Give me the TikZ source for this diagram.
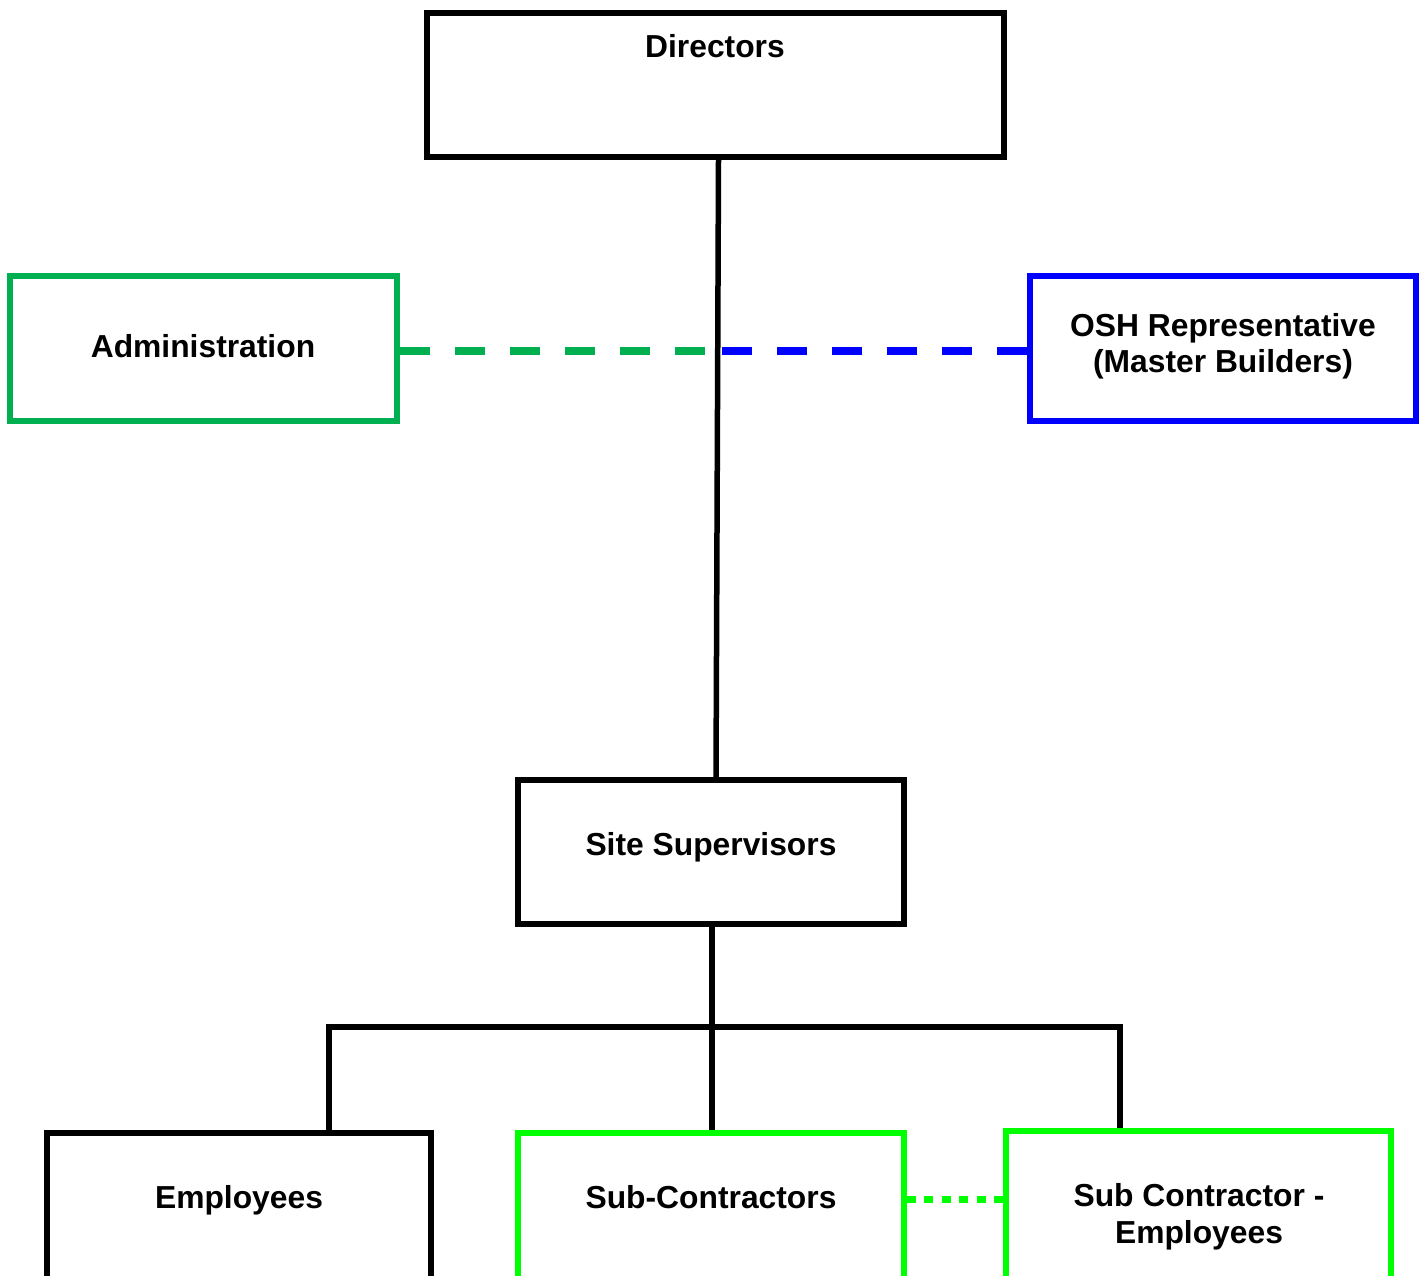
\documentclass[tikz,border=0pt]{standalone}
\usepackage{fontspec}
\setmainfont{Liberation Sans}
\begin{document}
\begin{tikzpicture}[x=1pt,y=-1pt,
  box/.style={draw=black,line width=5.5pt,rectangle,inner sep=0pt},
  lbl/.style={font=\fontsize{31.8}{36}\selectfont\bfseries,inner sep=0pt,anchor=base},
  conn/.style={draw=black,line width=5.5pt}]
\useasboundingbox (0,0) rectangle (1426,1275);
\definecolor{admgreen}{RGB}{0,176,80}
\definecolor{brgreen}{RGB}{0,255,0}
\definecolor{oshblue}{RGB}{0,0,255}
\clip (0,0) rectangle (1426,1275);
% boxes
\node[box,minimum width=577pt,minimum height=144pt] (dir) at (715.5,85) {};
\node[lbl] (dirtext) at (715,57.5) {Directors};
\node[box,draw=admgreen,minimum width=387pt,minimum height=145pt] (adm) at (203.5,348.5) {};
\node[lbl] (admtext) at (203,357.5) {Administration};
\node[box,draw=oshblue,minimum width=386pt,minimum height=145pt] (osh) at (1223,348.5) {};
\node[lbl] (oshtext1) at (1223,336.5) {OSH Representative};
\node[lbl] (oshtext2) at (1223,372.5) {(Master Builders)};
\node[box,minimum width=386pt,minimum height=144pt] (ss) at (711,852) {};
\node[lbl] (sstext) at (711,855.5) {Site Supervisors};
\node[box,minimum width=384pt,minimum height=160pt] (emp) at (239,1213) {};
\node[lbl] (emptext) at (239,1208.5) {Employees};
\node[box,draw=brgreen,minimum width=386pt,minimum height=160pt] (subc) at (711,1213) {};
\node[lbl] (subctext) at (711,1208.5) {Sub-Contractors};
\node[box,draw=brgreen,minimum width=385pt,minimum height=162pt] (sce) at (1198.5,1212) {};
\node[lbl] (scetext1) at (1199,1206) {Sub Contractor -};
\node[lbl] (scetext2) at (1199,1243) {Employees};
% connectors
\coordinate (jmid) at (716,351);
\coordinate (jl) at (329,1027);
\coordinate (jc) at (712,1027);
\coordinate (jr) at (1120,1027);
\draw[conn] ([xshift=3pt]dir.south) -- ([xshift=5pt]ss.north);
\draw[draw=admgreen,line width=8pt,dash pattern=on 30pt off 25pt] (adm.east |- jmid) -- (jmid);
\draw[draw=oshblue,line width=8pt,dash pattern=on 30pt off 25pt] (osh.west |- jmid) -- (jmid);
\draw[conn] ([xshift=1pt]ss.south) -- (jc);
\draw[conn,line cap=rect] (jl) -- (jr);
\draw[conn] (jl) -- (jl |- emp.north);
\draw[conn] (jc) -- (jc |- subc.north);
\draw[conn] (jr) -- (jr |- sce.north);
\draw[draw=brgreen,line width=7pt,dash pattern=on 9pt off 8.5pt] (subc.east |- 0,1199) -- (sce.west |- 0,1199);
\end{tikzpicture}
\end{document}
